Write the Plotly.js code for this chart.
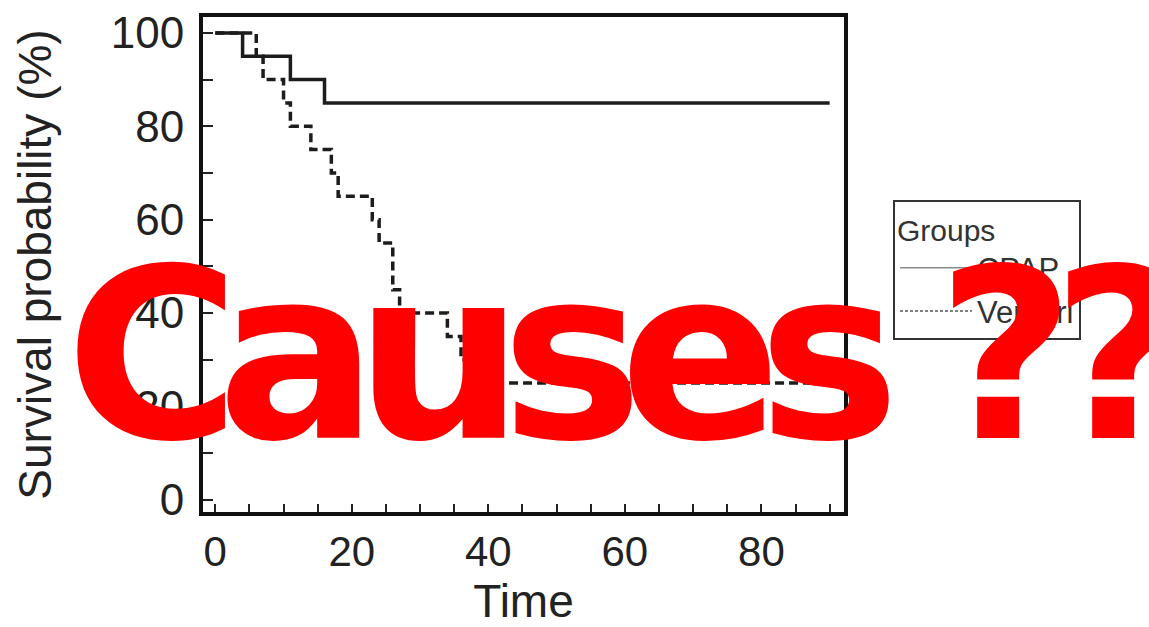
<!DOCTYPE html>
<html>
<head>
<meta charset="utf-8">
<script src="https://cdn.plot.ly/plotly-3.0.1.min.js"></script>
<style>
html,body{margin:0;padding:0;background:#fff;}
#chart{width:1149px;height:627px;}
</style>
</head>
<body>
<div id="chart"></div>
<script>
// Kaplan-Meier step data
const groupNames = ["CPAP", "Venturi"];
const timeCPAP = [0, 4, 11, 16, 90];
const survCPAP = [100, 95, 90, 85, 85];
const timeVenturi = [0, 6, 7, 10, 11, 14, 17, 18, 23, 24, 26, 27, 34, 36, 40, 90];
const survVenturi = [100, 95, 90, 85, 80, 75, 70, 65, 60, 55, 45, 40, 35, 30, 25, 25];
const xTickVals = [0, 20, 40, 60, 80];
const yTickVals = [0, 20, 40, 60, 80, 100];
const overlayText = "Causes ??";

const traces = [
  {x: timeCPAP, y: survCPAP, mode: "lines", line: {shape: "hv", color: "#1c1c1c", width: 3.5},
   showlegend: false, hoverinfo: "skip"},
  {x: timeVenturi, y: survVenturi, mode: "lines", line: {shape: "hv", color: "#1c1c1c", width: 3.5, dash: "9px,5px"},
   showlegend: false, hoverinfo: "skip"},
  // legend entries (thin grey samples as in the reference)
  {x: [null], y: [null], mode: "lines", name: groupNames[0], line: {color: "#8a8a8a", width: 1.5}},
  {x: [null], y: [null], mode: "lines", name: groupNames[1], line: {color: "#555", width: 1.5, dash: "3px,2px"}}
];

const layout = {
  width: 1149, height: 627,
  margin: {l: 203, r: 305, t: 17, b: 115},
  paper_bgcolor: "#fff", plot_bgcolor: "#fff",
  font: {family: "Liberation Sans, Arial, sans-serif", color: "#222"},
  xaxis: {
    range: [-1.8, 92.1], tickvals: xTickVals, ticks: "inside", ticklen: 8, tickwidth: 2, tickcolor: "#222",
    showline: true, linewidth: 4, linecolor: "#111", mirror: true, showgrid: false, zeroline: false,
    tickfont: {size: 42, color: "#222"}, ticklabelstandoff: 0,
    minor: {dtick: 5, tick0: 0, ticks: "inside", ticklen: 8, tickwidth: 2, tickcolor: "#222"},
    title: {text: "Time", font: {size: 46, color: "#222"}, standoff: 30}
  },
  yaxis: {
    range: [-2.6, 103.4], tickvals: yTickVals, ticks: "inside", ticklen: 10, tickwidth: 2, tickcolor: "#222",
    showline: true, linewidth: 4, linecolor: "#111", mirror: true, showgrid: false, zeroline: false,
    tickfont: {size: 44, color: "#222"}, ticklabelstandoff: 6,
    minor: {dtick: 10, tick0: 0, ticks: "inside", ticklen: 10, tickwidth: 2, tickcolor: "#222"},
    title: {text: "Survival probability (%)", font: {size: 46, color: "#222"}, standoff: 46}
  },
  legend: {
    x: 1.0764, y: 0.63, xanchor: "left", yanchor: "top",
    bgcolor: "#fff", bordercolor: "#333", borderwidth: 2,
    title: {text: "Groups", font: {size: 30, color: "#333"}},
    font: {size: 31, color: "#333"}, itemwidth: 72, tracegroupgap: 0
  },
  annotations: [{
    text: "<b>" + overlayText + "</b>", xref: "paper", yref: "paper",
    x: 0.645, y: 0.317, xanchor: "center", yanchor: "middle", showarrow: false,
    font: {family: "DejaVu Sans", size: 238, color: "#ff0000"}
  }]
};

Plotly.newPlot("chart", traces, layout, {staticPlot: true}).then(function (gd) {
  gd.querySelectorAll(".annotation-text").forEach(function (t) {
    t.setAttribute("letter-spacing", "-23px");
  });
  // keep the overlay word above the legend, as in the reference
  const ann = gd.querySelector(".annotation");
  if (ann && ann.parentNode) ann.parentNode.appendChild(ann);
});
</script>
</body>
</html>
